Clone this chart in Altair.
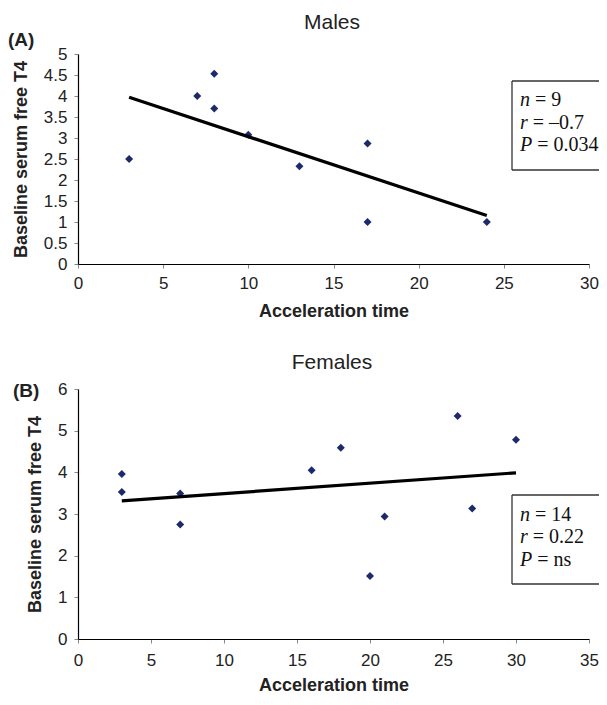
import altair as alt
import pandas as pd

# ---- data ----
male_x = [3, 7, 8, 8, 10, 13, 17, 17, 24]
male_y = [2.5, 4.0, 4.53, 3.7, 3.08, 2.33, 2.87, 1.0, 1.0]
female_x = [3, 3, 7, 7, 16, 18, 20, 21, 26, 27, 30]
female_y = [3.96, 3.53, 3.49, 2.75, 4.05, 4.59, 1.51, 2.94, 5.35, 3.13, 4.78]

male_xticks = [0, 5, 10, 15, 20, 25, 30]
male_yticks = [0, 0.5, 1, 1.5, 2, 2.5, 3, 3.5, 4, 4.5, 5]
female_xticks = [0, 5, 10, 15, 20, 25, 30, 35]
female_yticks = [0, 1, 2, 3, 4, 5, 6]

stat_letters = ["n", "r", "P"]
male_stats = ["= 9", "= \u20130.7", "= 0.034"]
female_stats = ["= 14", "= 0.22", "= ns"]

NAVY = "#1c2a6b"
SANS = "Liberation Sans"
SERIF = "Liberation Serif"
W = 511


def one(text):
    return alt.Chart(pd.DataFrame({"t": [text]}))


def panel(xs, ys, xdom, xticks, ydom, yticks, h, title, title_y, tag, tag_x,
          tag_y, stats, box_y, line_ys, xlabpad, xtitlepad):
    df = pd.DataFrame({"x": xs, "y": ys})
    xenc = alt.X("x:Q", scale=alt.Scale(domain=xdom, nice=False, zero=True),
                 axis=alt.Axis(values=xticks, title="Acceleration time",
                               labelPadding=xlabpad, titlePadding=xtitlepad,
                               labelOverlap=False, labelFlush=False))
    yenc = alt.Y("y:Q", scale=alt.Scale(domain=ydom, nice=False, zero=True),
                 axis=alt.Axis(values=yticks, title="Baseline serum free T4",
                               format=".1~f",
                               labelPadding=7, titlePadding=13,
                               labelOverlap=False, labelFlush=False))
    base = alt.Chart(df)
    pts = base.mark_point(shape="diamond", filled=True, size=64, opacity=1,
                          color=NAVY).encode(x=xenc, y=yenc)
    reg = base.transform_regression("x", "y").mark_line(
        color="black", strokeWidth=3.2).encode(x=xenc, y=yenc)

    ttl = one(title).mark_text(font=SANS, fontSize=21, color="#222",
                               align="center", baseline="alphabetic").encode(
        text="t:N", x=alt.value(254), y=alt.value(title_y))
    tg = one(tag).mark_text(font=SANS, fontSize=19, fontWeight="bold",
                            color="#222", align="left",
                            baseline="alphabetic").encode(
        text="t:N", x=alt.value(tag_x), y=alt.value(tag_y))

    y0, y1 = box_y
    box = one("box").mark_rect(fill="white").encode(
        x=alt.value(434), x2=alt.value(540),
        y=alt.value(y0), y2=alt.value(y1))
    edge = dict(color="#333", strokeWidth=1.3)
    left = one("l").mark_rule(**edge).encode(
        x=alt.value(434), y=alt.value(y0), y2=alt.value(y1))
    topr = one("t").mark_rule(**edge).encode(
        x=alt.value(434), x2=alt.value(540), y=alt.value(y0))
    botr = one("b").mark_rule(**edge).encode(
        x=alt.value(434), x2=alt.value(540), y=alt.value(y1))

    layers = [pts, reg, ttl, tg, box, left, topr, botr]
    letter_w = [10, 7.8, 12.2]
    for letter, rest, ly, lw in zip(stat_letters, stats, line_ys, letter_w):
        layers.append(one(letter).mark_text(
            font=SERIF, fontSize=20, fontStyle="italic", color="#111",
            align="left", baseline="alphabetic").encode(
            text="t:N", x=alt.value(442), y=alt.value(ly)))
        layers.append(one(rest).mark_text(
            font=SERIF, fontSize=20, color="#111", align="left",
            baseline="alphabetic").encode(
            text="t:N", x=alt.value(442 + lw + 5), y=alt.value(ly)))

    return alt.layer(*layers).properties(width=W, height=h)


top = panel(male_x, male_y, [0, 30], male_xticks, [0, 5], male_yticks, 210,
            "Males", -25, "(A)", -70, -8, male_stats, (27, 116),
            (52, 75, 97), 7, 11)
bottom = panel(female_x, female_y, [0, 35], female_xticks, [0, 6],
               female_yticks, 250, "Females", -20, "(B)", -65, 8,
               female_stats, (106, 195), (132, 154, 177), 9, 8)

chart = alt.vconcat(top, bottom, spacing=32).properties(
    padding={"left": 0, "top": 4, "right": -20, "bottom": 0}
).configure_view(stroke=None).configure_axis(
    grid=False,
    domainColor="#000", domainWidth=1.2,
    tickColor="#888", tickSize=4, tickWidth=1,
    labelFont=SANS, labelFontSize=17, labelColor="#222",
    titleFont=SANS, titleFontSize=18, titleFontWeight="bold", titleColor="#222",
)

chart.save("out.html", embed_options={"renderer": "svg", "actions": False})
